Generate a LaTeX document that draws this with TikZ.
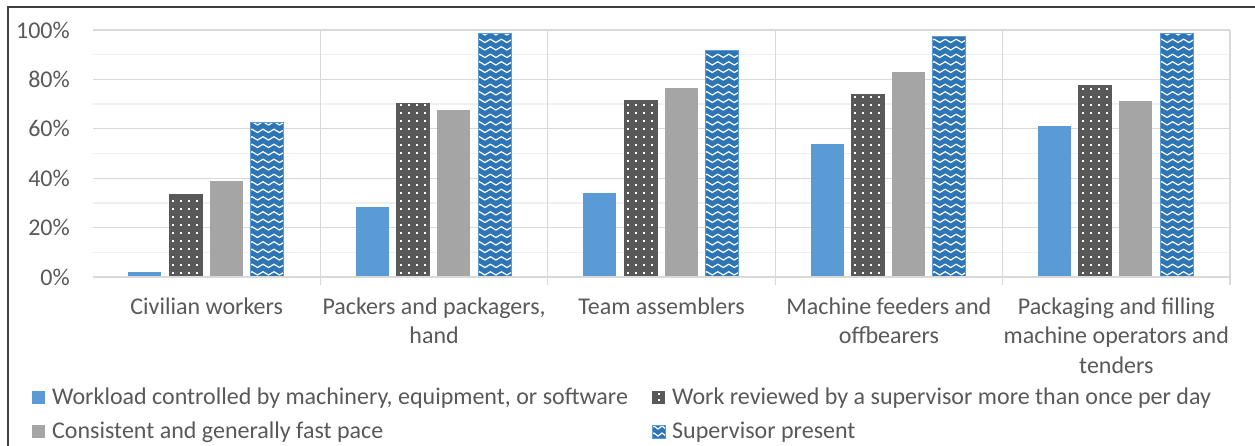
\documentclass[tikz,border=0pt]{standalone}
\usepackage{fontspec}
\setmainfont{Carlito}
\definecolor{sone}{HTML}{5B9BD5}
\definecolor{stwo}{HTML}{595959}
\definecolor{sthree}{HTML}{A5A5A5}
\definecolor{sfour}{HTML}{2E75B6}
\definecolor{txtc}{HTML}{595959}
\definecolor{gmaj}{HTML}{D9D9D9}
\definecolor{gmin}{HTML}{F0F0F0}
\definecolor{framec}{HTML}{3F3F3F}
\tikzset{
  majorgrid/.style={draw=gmaj, line width=1.3pt},
  minorgrid/.style={draw=gmin, line width=1.3pt},
  lbl/.style={font=\fontsize{24}{29.5}\selectfont, text=txtc, inner sep=0pt},
  zig/.style={draw=white, line width=1.2pt},
}
\newcommand\DotFill[4]{%
  \begin{scope}
    \clip (#1,#2) rectangle (#3,#4);
    \foreach \ri in {0,...,31}{\foreach \qi in {0,...,4}{%
      \fill[white] ({#1+3+8*\qi},{#2-3-8*\ri}) rectangle ++(2,-2);}}
  \end{scope}}
\newcommand\ZigFill[4]{%
  \begin{scope}
    \clip (#1,#2) rectangle (#3,#4);
    \foreach \ri in {0,...,33}{%
      \draw[zig] ({#1-4},{#2-2-7.5*\ri}) -- ++(5.5,-3.3) -- ++(5.5,3.3) -- ++(5.5,-3.3) -- ++(5.5,3.3)
        -- ++(5.5,-3.3) -- ++(5.5,3.3) -- ++(5.5,-3.3) -- ++(5.5,3.3);}
  \end{scope}}
\begin{document}
\begin{tikzpicture}[x=1pt,y=-1pt]
\useasboundingbox (0,0) rectangle (1255,445);
\fill[white] (0,0) rectangle (1255,445);
% frame
\draw[framec, line width=1.4pt] (8,446) -- (8,7) -- (1256,7);
% grid
\foreach \v in {10,30,50,70,90} \draw[minorgrid] (93,{277-2.47*\v}) -- (1230,{277-2.47*\v});
\foreach \v in {20,40,...,100} \draw[majorgrid] (93,{277-2.47*\v}) -- (1230,{277-2.47*\v});
\foreach \i in {1,...,5} \draw[majorgrid] ({93+227.4*\i},30) -- ({93+227.4*\i},285);
% y labels
\foreach \v in {0,20,...,100} \node[lbl, anchor=east] (y\v) at (70,{277-2.47*\v}) {\v\%};
% bars
\foreach \c/\va/\vb/\vc/\vd in {0/2.1/33.6/38.7/62.7, 1/28.2/70.3/67.6/98.7, 2/34.1/71.3/76.7/91.9, 3/53.7/74.1/82.9/97.4, 4/61.0/77.7/71.1/98.7}{%
  \pgfmathsetmacro\La{128.4+227.4*\c}
  \pgfmathsetmacro\Lb{\La+40.7}
  \pgfmathsetmacro\Lc{\La+81.4}
  \pgfmathsetmacro\Ld{\La+122.1}
  \pgfmathsetmacro\Ta{277-2.47*\va}
  \pgfmathsetmacro\Tb{277-2.47*\vb}
  \pgfmathsetmacro\Tc{277-2.47*\vc}
  \pgfmathsetmacro\Td{277-2.47*\vd}
  \fill[sone] (\La,277) rectangle (\La+33,\Ta);
  \fill[stwo] (\Lb,277) rectangle (\Lb+33,\Tb);
  \DotFill{\Lb}{277}{\Lb+33}{\Tb}
  \draw[stwo, line width=0.8pt] (\Lb,277.5) rectangle (\Lb+33,\Tb);
  \fill[sthree] (\Lc,277) rectangle (\Lc+33,\Tc);
  \fill[sfour] (\Ld,277) rectangle (\Ld+33,\Td);
  \ZigFill{\Ld}{277}{\Ld+33}{\Td}
  \draw[sone, line width=0.8pt] (\Ld,277.5) rectangle (\Ld+33,\Td);
}
\draw[majorgrid] (93,277) -- (1230,277);
% category labels
\node[lbl, anchor=north, align=center] (c1) at (206.7,297.5) {Civilian workers};
\node[lbl, anchor=north, align=center] (c2) at (434.1,297.5) {Packers and packagers,\\hand};
\node[lbl, anchor=north, align=center] (c3) at (661.5,297.5) {Team assemblers};
\node[lbl, anchor=north, align=center] (c4) at (888.9,297.5) {Machine feeders and\\offbearers};
\node[lbl, anchor=north, align=center] (c5) at (1116.3,297.5) {Packaging and filling\\machine operators and\\tenders};
% legend
\fill[sone] (32,391) rectangle (45,404);
\fill[sthree] (32,425) rectangle (45,438);
\fill[stwo] (652,391) rectangle (665,404);
\fill[white] (658,393) rectangle (660,395);
\fill[white] (658,399) rectangle (660,401);
\fill[sfour] (652,425) rectangle (665,438);
\begin{scope}
  \clip (652,425) rectangle (665,438);
  \draw[zig] (650,429) -- ++(4,-3) -- ++(4,3) -- ++(4,-3) -- ++(4,3);
  \draw[zig] (650,436) -- ++(4,-3) -- ++(4,3) -- ++(4,-3) -- ++(4,3);
\end{scope}
\draw[sone, line width=0.8pt] (652,425) rectangle (665,438);
\node[lbl, anchor=base west] (l1) at (52,404) {Workload controlled by machinery, equipment, or software};
\node[lbl, anchor=base west] (l2) at (672,404) {Work reviewed by a supervisor more than once per day};
\node[lbl, anchor=base west] (l3) at (52,438) {Consistent and generally fast pace};
\node[lbl, anchor=base west] (l4) at (672,438) {Supervisor present};
\end{tikzpicture}
\end{document}
